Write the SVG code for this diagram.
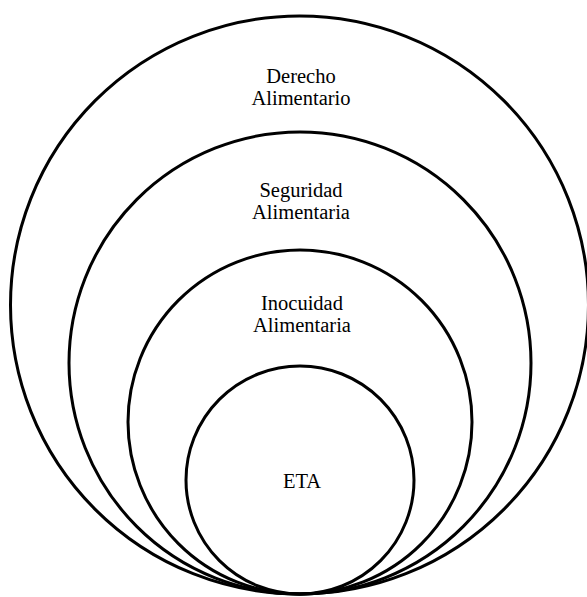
<svg xmlns="http://www.w3.org/2000/svg" width="587" height="597" viewBox="0 0 587 597">
<style>
.c{fill:none;stroke:#000;stroke-width:3}
text{font-family:'Times New Roman','Liberation Serif',Times,serif;font-size:20.5px;fill:#000;text-anchor:middle}
</style>
<rect width="587" height="597" fill="#fff"/>
<g id="derecho">
<circle class="c" cx="299.5" cy="305" r="289"/>
<text x="301" y="83">Derecho</text>
<text x="301" y="105">Alimentario</text>
</g>
<g id="seguridad">
<circle class="c" cx="300" cy="363" r="231"/>
<text x="301" y="197">Seguridad</text>
<text x="301" y="219">Alimentaria</text>
</g>
<g id="inocuidad">
<circle class="c" cx="300" cy="422" r="172"/>
<text x="302" y="310">Inocuidad</text>
<text x="302" y="332">Alimentaria</text>
</g>
<g id="eta">
<circle class="c" cx="300" cy="480" r="114"/>
<text x="302" y="488">ETA</text>
</g>
<g id="connectors"></g>
</svg>
